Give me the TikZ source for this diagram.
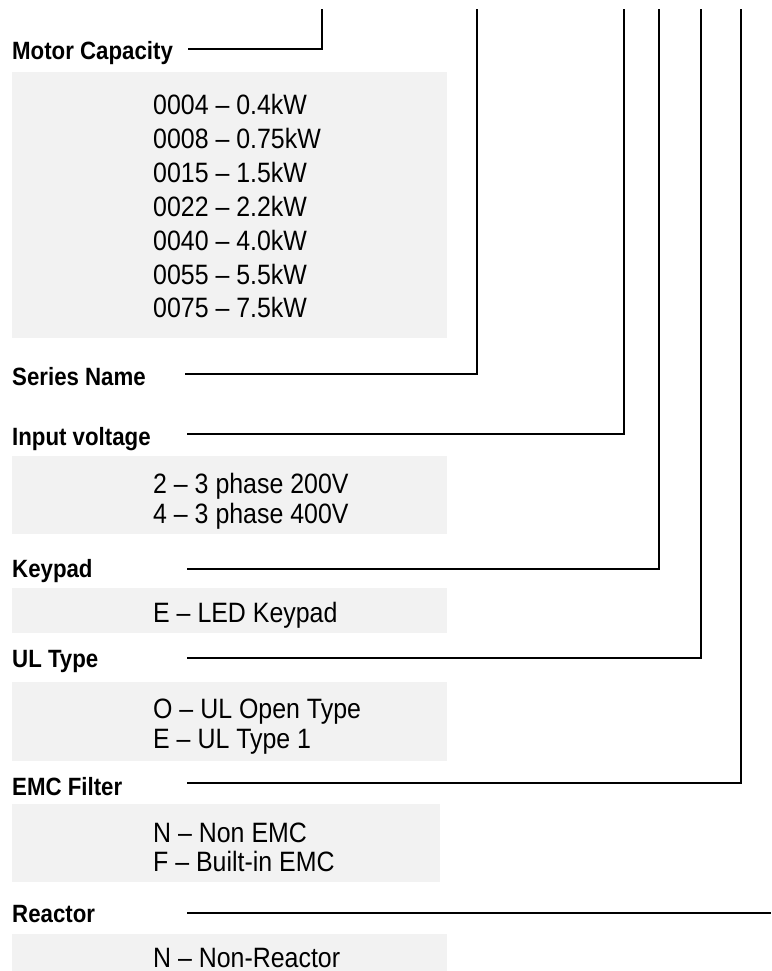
\documentclass[tikz,border=0pt]{standalone}
\usepackage{fontspec}
\setmainfont{Liberation Sans}
\newfontfamily\labfont{Liberation Sans}[FakeStretch=0.89]
\definecolor{boxgray}{HTML}{F2F2F2}
\tikzset{
  hdr/.style={anchor=base west, inner sep=0pt, font=\labfont\bfseries\fontsize{25}{29}\selectfont},
  opt/.style={anchor=base west, inner sep=0pt, font=\labfont\fontsize{28}{32}\selectfont},
  wire/.style={line width=2.6pt, black},
  panel/.style={fill=boxgray, draw=none}
}
\begin{document}
\begin{tikzpicture}[x=1pt,y=-1pt]
\useasboundingbox (0,0) rectangle (771,971);
% gray panels
\fill[panel] (12,72) rectangle (447,338);
\fill[panel] (12,456) rectangle (447,534);
\fill[panel] (12,588) rectangle (447,633);
\fill[panel] (12,682) rectangle (447,761);
\fill[panel] (12,804) rectangle (440,882);
\fill[panel] (12,934) rectangle (447,971);
% headers
\node[hdr] (mc) at (12,60) {Motor Capacity};
\node[hdr] (sn) at (12,385) {Series Name};
\node[hdr] (iv) at (12,445) {Input voltage};
\node[hdr] (kp) at (12,577) {Keypad};
\node[hdr] (ul) at (12,667) {UL Type};
\node[hdr] (emc) at (12,795) {EMC Filter};
\node[hdr] (re) at (12,922) {Reactor};
% options
\node[opt] (c1) at (153,115) {0004 – 0.4kW};
\node[opt] (c2) at (153,148.8) {0008 – 0.75kW};
\node[opt] (c3) at (153,182.6) {0015 – 1.5kW};
\node[opt] (c4) at (153,216.4) {0022 – 2.2kW};
\node[opt] (c5) at (153,250.2) {0040 – 4.0kW};
\node[opt] (c6) at (153,284) {0055 – 5.5kW};
\node[opt] (c7) at (153,317.8) {0075 – 7.5kW};
\node[opt] (v1) at (153,493) {2 – 3 phase 200V};
\node[opt] (v2) at (153,523) {4 – 3 phase 400V};
\node[opt] (k1) at (153,622) {E – LED Keypad};
\node[opt] (u1) at (153,718) {O – UL Open Type};
\node[opt] (u2) at (153,748) {E – UL Type 1};
\node[opt] (e1) at (153,842) {N – Non EMC};
\node[opt] (e2) at (153,871) {F – Built-in EMC};
\node[opt] (r1) at (153,967) {N – Non-Reactor};
% connector coordinates
\coordinate (mcS) at (188,49);  \coordinate (mcT) at (322,9);
\coordinate (snS) at (185,374); \coordinate (snT) at (477,9);
\coordinate (ivS) at (187,434); \coordinate (ivT) at (624,9);
\coordinate (kpS) at (187,569); \coordinate (kpT) at (659,9);
\coordinate (ulS) at (187,658); \coordinate (ulT) at (701,9);
\coordinate (emS) at (187,783); \coordinate (emT) at (741,9);
\coordinate (reS) at (187,913); \coordinate (reE) at (771,913);
\draw[wire] (mcS) -| (mcT);
\draw[wire] (snS) -| (snT);
\draw[wire] (ivS) -| (ivT);
\draw[wire] (kpS) -| (kpT);
\draw[wire] (ulS) -| (ulT);
\draw[wire] (emS) -| (emT);
\draw[wire] (reS) -- (reE);
\end{tikzpicture}
\end{document}
